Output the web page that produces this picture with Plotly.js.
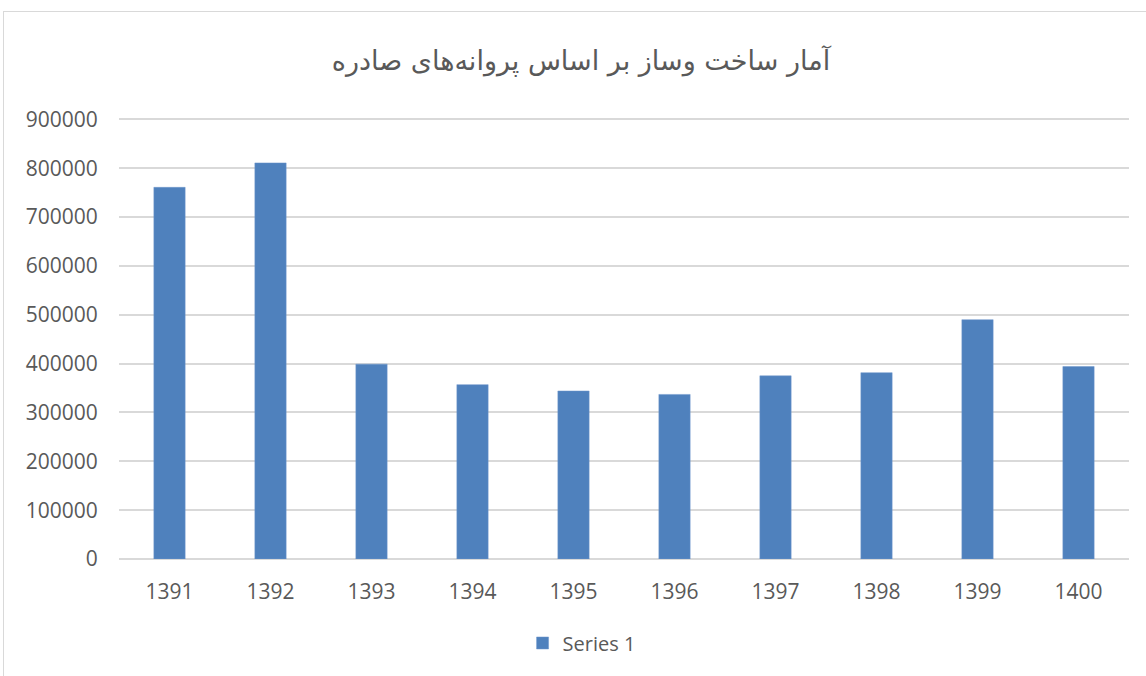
<!DOCTYPE html>
<html>
<head>
<meta charset="utf-8">
<script src="https://cdn.plot.ly/plotly-3.0.1.min.js"></script>
<style>
html,body{margin:0;padding:0;background:#fff;}
#frame{position:absolute;left:3px;top:11px;width:1200px;height:700px;border-top:1px solid #d9d9d9;border-left:1px solid #d9d9d9;pointer-events:none;}
#chart{position:absolute;left:0;top:0;width:1146px;height:676px;}
</style>
</head>
<body>
<div id="chart"></div>
<div id="frame"></div>
<script>
const chartTitle = 'آمار ساخت وساز بر اساس پروانه‌های صادره';
const seriesName = 'Series 1';
const years = ['1391','1392','1393','1394','1395','1396','1397','1398','1399','1400'];
const permits = [761000, 811000, 399000, 357000, 344000, 337000, 375000, 381500, 490000, 394000];
const yTicks = [0,100000,200000,300000,400000,500000,600000,700000,800000,900000];

const grey = '#595959';
const trace = {
  type: 'bar',
  x: years,
  y: permits,
  name: seriesName,
  marker: {color: '#4F81BD', line: {color: '#6f97cc', width: 0.5}},
  showlegend: true
};
const layout = {
  width: 1146, height: 676,
  paper_bgcolor: 'rgba(0,0,0,0)', plot_bgcolor: '#fff',
  margin: {l: 119, r: 17, t: 117, b: 117, autoexpand: false},
  bargap: 0.69,
  title: {text: chartTitle, x: 0.507, xref: 'container', xanchor: 'center', y: 0.911, yanchor: 'middle',
          font: {family: 'DejaVu Sans, Noto Sans', size: 27, color: grey}},
  font: {family: 'Open Sans', size: 21, color: grey},
  xaxis: {type: 'category', showgrid: false, zeroline: false, showline: false, tickangle: 0,
          automargin: false,
          ticks: 'outside', ticklen: 14, tickcolor: 'rgba(0,0,0,0)',
          tickfont: {family: 'Open Sans', size: 21, color: grey}},
  yaxis: {range: [0, 905000], autorange: false, tickvals: yTicks, ticktext: yTicks.map(String),
          automargin: false,
          showgrid: true, gridcolor: '#d9d9d9', gridwidth: 2,
          zeroline: true, zerolinecolor: '#d9d9d9', zerolinewidth: 2,
          ticks: 'outside', ticklen: 16, tickcolor: 'rgba(0,0,0,0)',
          tickfont: {family: 'Open Sans', size: 21, color: grey}},
  legend: {orientation: 'h', x: 0.458, xref: 'paper', xanchor: 'center', y: -0.19, yanchor: 'middle',
           itemwidth: 30,
           font: {family: 'Open Sans', size: 20, color: grey}}
};
Plotly.newPlot('chart', [trace], layout, {displayModeBar: false, staticPlot: true});
</script>
</body>
</html>
